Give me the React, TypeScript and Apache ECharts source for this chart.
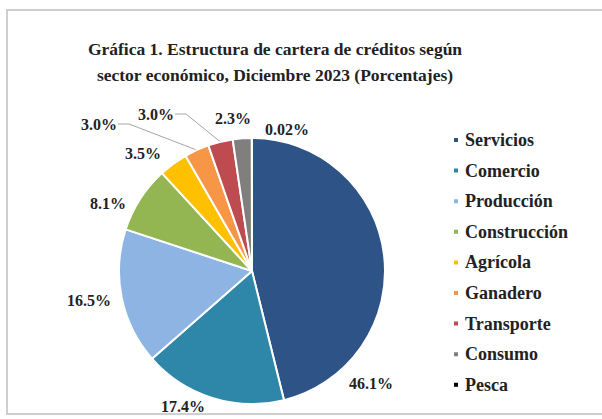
import React, { useEffect, useRef } from "react";
import * as echarts from "echarts";

const categories = ["Servicios", "Comercio", "Producción", "Construcción", "Agrícola", "Ganadero", "Transporte", "Consumo", "Pesca"];
const values = [46.1, 17.4, 16.5, 8.1, 3.5, 3.0, 3.0, 2.3, 0.02];
const colors = ["#2E5386", "#2E86A8", "#8DB4E2", "#93B552", "#FFC000", "#F79646", "#BE4B4F", "#7F7F7F", "#000000"];
const titleText = "Gráfica 1. Estructura de cartera de créditos según\nsector económico, Diciembre 2023 (Porcentajes)";

// label anchor positions (px), separate from data
const labelPos = [
  [371, 383],
  [183, 406],
  [89, 300],
  [108, 203],
  [143, 153],
  [99, 124],
  [156, 114],
  [233, 118],
  [287, 129],
];
const withLine = [false, false, false, false, false, true, true, false, false];

export default function App() {
  const ref = useRef<HTMLDivElement>(null);
  useEffect(() => {
    document.body.style.margin = "0";
    const chart = echarts.init(ref.current!, null, { renderer: "svg" });
    const serif = "'Liberation Serif', 'Times New Roman', serif";
    chart.setOption({
      animation: false,
      backgroundColor: "#ffffff",
      graphic: [
        {
          type: "rect",
          z: -10,
          shape: { x: 7, y: 10, width: 610, height: 404 },
          style: { fill: "#ffffff", stroke: "#cfcfcf", lineWidth: 2 },
        },
      ],
      title: {
        text: titleText,
        left: 270,
        top: 31,
        textAlign: "center",
        textStyle: { fontFamily: serif, fontWeight: "bold", fontSize: 17.5, lineHeight: 26, color: "#222", align: "center" },
      },
      legend: {
        orient: "vertical",
        left: 447,
        top: 126,
        itemWidth: 6,
        itemHeight: 6,
        itemGap: 12.6,
        icon: "rect",
        textStyle: { fontFamily: serif, fontWeight: "bold", fontSize: 18, color: "#222", padding: [0, 0, 0, 1] },
        data: categories,
      },
      series: [
        {
          type: "pie",
          center: [252, 271],
          radius: 133,
          startAngle: 90,
          clockwise: true,
          avoidLabelOverlap: false,
          itemStyle: { borderColor: "#ffffff", borderWidth: 2 },
          label: {
            show: true,
            position: "outside",
            fontFamily: serif,
            fontWeight: "bold",
            fontSize: 16,
            color: "#222",
            formatter: (p: any) => (p.value < 0.1 ? p.value.toFixed(2) : p.value.toFixed(1)) + "%",
          },
          labelLine: { show: true, lineStyle: { color: "#a6a6a6", width: 1 } },
          labelLayout: (params: any) => {
            const i = params.dataIndex;
            const [x, y] = labelPos[i];
            const res: any = { x, y, align: "center", verticalAlign: "middle" };
            if (withLine[i] && params.labelLinePoints) {
              const p0 = params.labelLinePoints[0];
              const endX = x + params.labelRect.width / 2 + 1;
              res.labelLinePoints = [p0, [endX + 11, y], [endX, y]];
            } else {
              res.labelLinePoints = [[x, y], [x, y], [x, y]];
            }
            return res;
          },
          data: categories.map((name, i) => ({ name, value: values[i], itemStyle: { color: colors[i] } })),
        },
      ],
    });
    return () => chart.dispose();
  }, []);
  return <div ref={ref} style={{ width: 602, height: 419 }} />;
}
